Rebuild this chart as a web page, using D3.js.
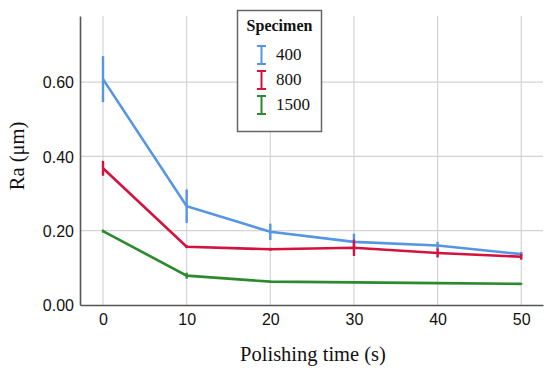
<!DOCTYPE html>
<html>
<head>
<meta charset="utf-8">
<script src="https://cdn.jsdelivr.net/npm/d3@7"></script>
<style>
  body { margin: 0; background: #fff; }
  svg { display: block; }
</style>
</head>
<body>
<div id="chart"></div>
<script>
// data
var times = [0, 10, 20, 30, 40, 50];
var specimens = ["400", "800", "1500"];
var colors = ["#5595e3", "#d3123e", "#2b8a2d"];

var ra400  = [0.608, 0.266, 0.197, 0.170, 0.160, 0.137];
var ra800  = [0.368, 0.157, 0.150, 0.154, 0.140, 0.130];
var ra1500 = [0.199, 0.079, 0.063, 0.061, 0.059, 0.057];

// half length of each error bar
var err400  = [0.062, 0.045, 0.022, 0.022, 0.010, 0.006];
var err800  = [0.020, 0.004, 0.004, 0.022, 0.012, 0.008];
var err1500 = [0.004, 0.008, 0.002, 0.002, 0.002, 0.002];

var yTicks = [0, 0.2, 0.4, 0.6];

var series = [
    {name: specimens[0], values: ra400, err: err400, color: colors[0]},
    {name: specimens[1], values: ra800, err: err800, color: colors[1]},
    {name: specimens[2], values: ra1500, err: err1500, color: colors[2]}
];

var width = 550, height = 371;
var plotLeft = 80, plotRight = 543, plotTop = 16, plotBottom = 305;

var svg = d3.select("#chart")
    .append("svg")
    .attr("width", width)
    .attr("height", height);

var x = d3.scaleLinear().domain([-2.75, 52.6]).range([plotLeft, plotRight]);
var y = d3.scaleLinear().domain([0, 0.778]).range([plotBottom, plotTop]);

// grid
svg.selectAll(".vgrid")
    .data(times).enter()
    .append("line")
    .attr("x1", function (d) { return x(d); })
    .attr("x2", function (d) { return x(d); })
    .attr("y1", plotTop)
    .attr("y2", plotBottom)
    .attr("stroke", "#d4d4d4")
    .attr("stroke-width", 1.2);

svg.selectAll(".hgrid")
    .data(yTicks.slice(1)).enter()
    .append("line")
    .attr("x1", plotLeft)
    .attr("x2", plotRight)
    .attr("y1", function (d) { return y(d); })
    .attr("y2", function (d) { return y(d); })
    .attr("stroke", "#d4d4d4")
    .attr("stroke-width", 1.2);

// axes
var xAxis = d3.axisBottom(x).tickValues(times).tickSize(0).tickPadding(9);
var yAxis = d3.axisLeft(y).tickValues(yTicks).tickSize(0).tickPadding(6)
    .tickFormat(d3.format(".2f"));

var gx = svg.append("g").attr("transform", "translate(0," + plotBottom + ")").call(xAxis);
var gy = svg.append("g").attr("transform", "translate(" + plotLeft + ",0)").call(yAxis);

[gx, gy].forEach(function (g) {
    g.select(".domain").attr("stroke", "#555").attr("stroke-width", 1.6);
    g.selectAll("text")
        .attr("fill", "#111")
        .style("font-family", "Liberation Sans, Arial, sans-serif")
        .style("font-size", "16px");
});
gy.selectAll("text").attr("dy", "0.35em");

// lines and error bars
var line = d3.line()
    .x(function (d, i) { return x(times[i]); })
    .y(function (d) { return y(d); });

series.forEach(function (s) {
    svg.append("path")
        .datum(s.values)
        .attr("d", line)
        .attr("fill", "none")
        .attr("stroke", s.color)
        .attr("stroke-width", 2.6);

    svg.selectAll(null)
        .data(s.values).enter()
        .append("line")
        .attr("x1", function (d, i) { return x(times[i]); })
        .attr("x2", function (d, i) { return x(times[i]); })
        .attr("y1", function (d, i) { return y(d + s.err[i]); })
        .attr("y2", function (d, i) { return y(d - s.err[i]); })
        .attr("stroke", s.color)
        .attr("stroke-width", 2.4);
});

// axis titles
svg.append("text")
    .attr("x", 313)
    .attr("y", 361)
    .attr("text-anchor", "middle")
    .style("font-family", "Liberation Serif, Times New Roman, serif")
    .style("font-size", "20.5px")
    .attr("fill", "#111")
    .text("Polishing time (s)");

svg.append("text")
    .attr("transform", "translate(24,156) rotate(-90)")
    .attr("text-anchor", "middle")
    .style("font-family", "Liberation Serif, Times New Roman, serif")
    .style("font-size", "20.5px")
    .attr("fill", "#111")
    .text("Ra (μm)");

// legend
var legend = svg.append("g");
legend.append("rect")
    .attr("x", 237.5)
    .attr("y", 10.5)
    .attr("width", 84)
    .attr("height", 121)
    .attr("fill", "#fff")
    .attr("stroke", "#666")
    .attr("stroke-width", 1.5);

legend.append("text")
    .attr("x", 279.5)
    .attr("y", 31)
    .attr("text-anchor", "middle")
    .style("font-family", "Liberation Serif, Times New Roman, serif")
    .style("font-size", "16px")
    .style("font-weight", "bold")
    .attr("fill", "#111")
    .text("Specimen");

var items = legend.selectAll(".item")
    .data(series).enter()
    .append("g")
    .attr("transform", function (d, i) { return "translate(0," + (55 + i * 25) + ")"; });

items.append("path")
    .attr("d", "M257,-9H266M261.5,-9V9M257,9H266")
    .attr("fill", "none")
    .attr("stroke", function (d) { return d.color; })
    .attr("stroke-width", 2);

items.append("text")
    .attr("x", 276)
    .attr("y", 5)
    .style("font-family", "Liberation Serif, Times New Roman, serif")
    .style("font-size", "17px")
    .attr("fill", "#111")
    .text(function (d) { return d.name; });
</script>
</body>
</html>
